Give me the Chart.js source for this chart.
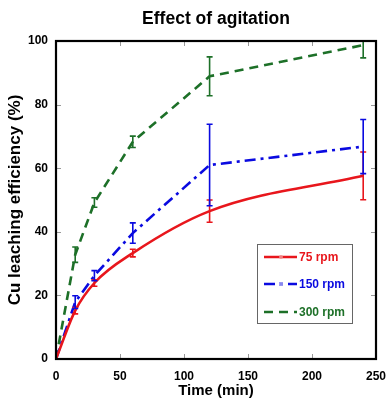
<!DOCTYPE html>
<html>
<head>
<meta charset="utf-8">
<script src="https://cdn.jsdelivr.net/npm/chart.js@4/dist/chart.umd.min.js"></script>
<style>
    html, body { margin: 0; padding: 0; background: #fff; }
    #wrap { width: 388px; height: 406px; }
</style>
</head>
<body>
<div id="wrap"><canvas id="agitationChart" width="388" height="406"></canvas></div>
<script>
// Data
const times = [0, 15, 30, 60, 120, 240];
const rpm75 = [0, 15.2, 23.9, 33.3, 46.5, 57.6];
const rpm75Err = [0, 1.0, 1.0, 1.2, 3.5, 7.5];
const rpm150 = [0, 17.9, 26.2, 39.6, 61.0, 66.8];
const rpm150Err = [0, 2.0, 1.6, 3.2, 12.8, 8.5];
const rpm300 = [0, 32.8, 49.2, 68.3, 88.9, 98.7];
const rpm300Err = [0, 2.4, 1.5, 1.8, 6.1, 4.0];
const seriesLabels = ['75 rpm', '150 rpm', '300 rpm'];
const xTicks = [0, 50, 100, 150, 200, 250];
const yTicks = [0, 20, 40, 60, 80, 100];

const RED = '#e8161c';
const BLUE = '#0a0ae0';
const GREEN = '#1d7028';
const FONT = "'Liberation Sans', Arial, sans-serif";

function toPoints(values) {
    return times.map((t, i) => ({ x: t, y: values[i] }));
}

// error bars drawn from the dataset's own points and the y scale
const errorBars = {
    id: 'errorBars',
    afterDatasetsDraw(chart) {
        const ctx = chart.ctx;
        const yScale = chart.scales.y;
        const area = chart.chartArea;
        ctx.save();
        ctx.beginPath();
        ctx.rect(area.left, area.top - 1, area.right - area.left, area.bottom - area.top + 1);
        ctx.clip();
        chart.data.datasets.forEach((ds, di) => {
            const meta = chart.getDatasetMeta(di);
            ctx.strokeStyle = ds.borderColor;
            ctx.lineWidth = 1.6;
            ctx.setLineDash([]);
            meta.data.forEach((pt, i) => {
                const e = ds.errors[i];
                if (!e) return;
                const v = ds.data[i].y;
                const yTop = yScale.getPixelForValue(v + e);
                const yBot = yScale.getPixelForValue(v - e);
                ctx.beginPath();
                ctx.moveTo(pt.x, yTop); ctx.lineTo(pt.x, yBot);
                ctx.moveTo(pt.x - 3, yTop); ctx.lineTo(pt.x + 3, yTop);
                ctx.moveTo(pt.x - 3, yBot); ctx.lineTo(pt.x + 3, yBot);
                ctx.stroke();
            });
        });
        ctx.restore();
    }
};

// frame, inner tick marks and the boxed legend
const frameAndLegend = {
    id: 'frameAndLegend',
    afterDraw(chart) {
        const ctx = chart.ctx;
        const a = chart.chartArea;
        const xs = chart.scales.x;
        const ys = chart.scales.y;
        ctx.save();
        ctx.setLineDash([]);
        ctx.strokeStyle = '#999';
        ctx.lineWidth = 1;
        xTicks.forEach(t => {
            const px = Math.round(xs.getPixelForValue(t)) + 0.5;
            ctx.beginPath();
            ctx.moveTo(px, a.bottom); ctx.lineTo(px, a.bottom - 5);
            ctx.moveTo(px, a.top); ctx.lineTo(px, a.top + 5);
            ctx.stroke();
        });
        yTicks.forEach(t => {
            const py = Math.round(ys.getPixelForValue(t)) + 0.5;
            ctx.beginPath();
            ctx.moveTo(a.left, py); ctx.lineTo(a.left + 5, py);
            ctx.moveTo(a.right, py); ctx.lineTo(a.right - 5, py);
            ctx.stroke();
        });
        ctx.strokeStyle = '#000';
        ctx.lineWidth = 2.2;
        ctx.strokeRect(a.left, a.top, a.right - a.left, a.bottom - a.top);

        // legend box
        const lx = 257, ly = 244, lw = 95, lh = 79;
        ctx.fillStyle = '#fff';
        ctx.fillRect(lx, ly, lw, lh);
        ctx.strokeStyle = '#666';
        ctx.lineWidth = 1;
        ctx.strokeRect(lx + 0.5, ly + 0.5, lw, lh);
        const rows = [257, 284, 312];
        const dss = chart.data.datasets;
        ctx.font = 'bold 12px ' + FONT;
        ctx.textBaseline = 'middle';
        dss.forEach((ds, i) => {
            const y = rows[i];
            ctx.strokeStyle = ds.borderColor;
            ctx.lineWidth = 2.4;
            ctx.setLineDash(ds.borderDash || []);
            ctx.beginPath();
            ctx.moveTo(264, y); ctx.lineTo(297, y);
            ctx.stroke();
            ctx.setLineDash([]);
            // faint marker in the middle of the sample line
            if (i === 0) {
                ctx.fillStyle = 'rgba(240,140,140,0.9)';
                ctx.beginPath(); ctx.arc(281, y, 2, 0, Math.PI * 2); ctx.fill();
            }
            if (i === 1) {
                ctx.fillStyle = 'rgba(150,150,240,0.9)';
                ctx.fillRect(279, y - 2, 4, 4);
            }
            ctx.fillStyle = ds.borderColor;
            ctx.fillText(ds.label, 299, y + 1);
        });
        ctx.restore();
    }
};

const ctx = document.getElementById('agitationChart').getContext('2d');
const chart = new Chart(ctx, {
    type: 'line',
    data: {
        datasets: [
            {
                label: seriesLabels[0],
                data: toPoints(rpm75),
                errors: rpm75Err,
                borderColor: RED,
                borderWidth: 2.6,
                cubicInterpolationMode: 'monotone',
                pointRadius: 0
            },
            {
                label: seriesLabels[1],
                data: toPoints(rpm150),
                errors: rpm150Err,
                borderColor: BLUE,
                borderWidth: 2.6,
                borderDash: [11, 5, 3, 5],
                tension: 0,
                pointRadius: 0
            },
            {
                label: seriesLabels[2],
                data: toPoints(rpm300),
                errors: rpm300Err,
                borderColor: GREEN,
                borderWidth: 2.6,
                borderDash: [9, 6],
                tension: 0,
                pointRadius: 0
            }
        ]
    },
    options: {
        responsive: false,
        animation: false,
        layout: { padding: { right: 12, left: 0, top: 0, bottom: 0 } },
        plugins: {
            legend: { display: false },
            tooltip: { enabled: false },
            title: {
                display: true,
                fullSize: false,
                text: 'Effect of agitation',
                color: '#000',
                font: { family: FONT, size: 17.5, weight: 'bold' },
                padding: { top: 9, bottom: 11 }
            }
        },
        scales: {
            x: {
                type: 'linear',
                min: 0,
                max: 250,
                grid: { display: false, drawTicks: false },
                border: { display: false },
                afterFit(scale) {
                    scale.height = 47;
                    scale.paddingLeft = 0;
                    scale.paddingRight = 0;
                },
                afterBuildTicks(scale) { scale.ticks = xTicks.map(v => ({ value: v })); },
                ticks: {
                    color: '#000',
                    padding: 10,
                    maxRotation: 0,
                    font: { family: FONT, size: 12, weight: 'bold' }
                },
                title: {
                    display: true,
                    text: 'Time (min)',
                    color: '#000',
                    font: { family: FONT, size: 15, weight: 'bold' },
                    padding: { top: 0, bottom: 6 }
                }
            },
            y: {
                min: 0,
                max: 100,
                grid: { display: false, drawTicks: false },
                border: { display: false },
                afterFit(scale) {
                    scale.width = 56;
                    scale.paddingTop = 0;
                    scale.paddingBottom = 0;
                },
                afterBuildTicks(scale) { scale.ticks = yTicks.map(v => ({ value: v })); },
                ticks: {
                    color: '#000',
                    padding: 8,
                    font: { family: FONT, size: 12, weight: 'bold' }
                },
                title: {
                    display: true,
                    text: 'Cu leaching efficiency (%)',
                    color: '#000',
                    font: { family: FONT, size: 17, weight: 'bold' },
                    padding: { top: 5, bottom: 0 }
                }
            }
        }
    },
    plugins: [errorBars, frameAndLegend]
});
</script>
</body>
</html>
